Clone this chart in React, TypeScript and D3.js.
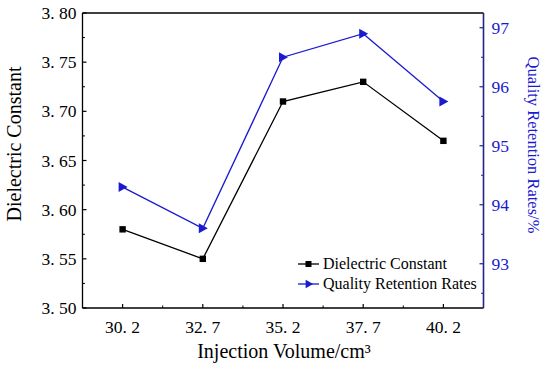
import React from "react";
import * as d3 from "d3";

const injectionVolumes = [30.2, 32.7, 35.2, 37.7, 40.2];
const dielectricConstant = [3.58, 3.55, 3.71, 3.73, 3.67];
const qualityRetention = [94.3, 93.6, 96.5, 96.9, 95.75];
const leftTicks = [3.5, 3.55, 3.6, 3.65, 3.7, 3.75, 3.8];
const rightTicks = [93, 94, 95, 96, 97];
const seriesNames = ["Dielectric Constant", "Quality Retention Rates"];

const W = 550, H = 366;
const L = 82.5, R = 483.5, T = 13, B = 308;
const BLUE = "#1a1ad0";
const NAVY = "#22228a";
const SERIF = "'Liberation Serif', 'Times New Roman', serif";

export default function App() {
  const x = d3.scaleLinear().domain([28.95, 41.45]).range([L, R]);
  const yL = d3.scaleLinear().domain([3.5, 3.8]).range([B, T]);
  const yR = d3.scaleLinear().domain([92.25, 97.25]).range([B, T]);

  const lineL = d3.line<number>().x((_, i) => x(injectionVolumes[i])).y((d) => yL(d));
  const lineR = d3.line<number>().x((_, i) => x(injectionVolumes[i])).y((d) => yR(d));

  const xMinor = injectionVolumes.slice(0, -1).map((v, i) => (v + injectionVolumes[i + 1]) / 2);
  const leftMinor = leftTicks.slice(0, -1).map((v, i) => (v + leftTicks[i + 1]) / 2);
  const rightMinor = [92.5, ...rightTicks.slice(0, -1).map((v, i) => (v + rightTicks[i + 1]) / 2)];

  const tri = (cx: number, cy: number, s = 5) =>
    `M${cx - s * 0.8},${cy - s} L${cx + s},${cy} L${cx - s * 0.8},${cy + s} Z`;

  const fmtL = (v: number) => d3.format(".2f")(v).replace(".", ". ");
  const fmtX = (v: number) => d3.format(".1f")(v).replace(".", ". ");

  return (
    <svg width={W} height={H} style={{ position: "absolute", left: 0, top: 0, background: "#fff" }}>
      <rect x={0} y={0} width={W} height={H} fill="#fff" />
      {/* axes */}
      <line x1={L} y1={T} x2={R} y2={T} stroke="#000" strokeWidth={1.3} />
      <line x1={L} y1={T} x2={L} y2={B} stroke="#000" strokeWidth={1.3} />
      <line x1={L} y1={B} x2={R} y2={B} stroke="#000" strokeWidth={1.3} />
      <line x1={R} y1={T} x2={R} y2={B} stroke={NAVY} strokeWidth={1.6} />

      {/* left ticks */}
      {leftTicks.map((v) => (
        <g key={"lt" + v}>
          <line x1={L} x2={L + 4} y1={yL(v)} y2={yL(v)} stroke="#000" strokeWidth={1.2} />
          <text x={L - 6} y={yL(v) + 6} textAnchor="end" fontFamily={SERIF} fontSize={17.5} fill="#000">
            {fmtL(v)}
          </text>
        </g>
      ))}
      {leftMinor.map((v) => (
        <line key={"lm" + v} x1={L} x2={L + 2.5} y1={yL(v)} y2={yL(v)} stroke="#000" strokeWidth={1} />
      ))}

      {/* right ticks */}
      {rightTicks.map((v) => (
        <g key={"rt" + v}>
          <line x1={R} x2={R - 4} y1={yR(v)} y2={yR(v)} stroke={NAVY} strokeWidth={1.2} />
          <text x={R + 8} y={yR(v) + 6} textAnchor="start" fontFamily={SERIF} fontSize={17.5} fill={BLUE}>
            {v}
          </text>
        </g>
      ))}
      {rightMinor.map((v) => (
        <line key={"rm" + v} x1={R} x2={R - 2.5} y1={yR(v)} y2={yR(v)} stroke={NAVY} strokeWidth={1} />
      ))}

      {/* x ticks */}
      {injectionVolumes.map((v) => (
        <g key={"xt" + v}>
          <line x1={x(v)} x2={x(v)} y1={B} y2={B - 4} stroke="#000" strokeWidth={1.2} />
          <text x={x(v)} y={333} textAnchor="middle" fontFamily={SERIF} fontSize={17.5} fill="#000">
            {fmtX(v)}
          </text>
        </g>
      ))}
      {xMinor.map((v) => (
        <line key={"xm" + v} x1={x(v)} x2={x(v)} y1={B} y2={B - 2.5} stroke="#000" strokeWidth={1} />
      ))}

      {/* axis titles */}
      <text x={284} y={358} textAnchor="middle" fontFamily={SERIF} fontSize={20} fill="#000">
        Injection Volume/cm³
      </text>
      <text transform={`translate(21,144) rotate(-90)`} textAnchor="middle" fontFamily={SERIF} fontSize={20} fill="#000">
        Dielectric Constant
      </text>
      <text transform={`translate(528,145) rotate(90)`} textAnchor="middle" fontFamily={SERIF} fontSize={16.5} fill={BLUE}>
        Quality Retention Rates/%
      </text>

      {/* series */}
      <path d={lineL(dielectricConstant) ?? ""} fill="none" stroke="#000" strokeWidth={1.3} />
      {dielectricConstant.map((v, i) => (
        <rect key={"dm" + i} x={x(injectionVolumes[i]) - 3.2} y={yL(v) - 3.2} width={6.4} height={6.4} fill="#000" />
      ))}
      <path d={lineR(qualityRetention) ?? ""} fill="none" stroke={BLUE} strokeWidth={1.3} />
      {qualityRetention.map((v, i) => (
        <path key={"qm" + i} d={tri(x(injectionVolumes[i]), yR(v))} fill={BLUE} />
      ))}

      {/* legend */}
      <line x1={298} x2={319} y1={264} y2={264} stroke="#000" strokeWidth={1.3} />
      <rect x={305.5} y={261} width={6} height={6} fill="#000" />
      <text x={323} y={269} fontFamily={SERIF} fontSize={16} fill="#000">{seriesNames[0]}</text>
      <line x1={298} x2={319} y1={284} y2={284} stroke={BLUE} strokeWidth={1.3} />
      <path d={tri(309, 284, 4.2)} fill={BLUE} />
      <text x={323} y={289} fontFamily={SERIF} fontSize={16} fill="#000">{seriesNames[1]}</text>
    </svg>
  );
}
